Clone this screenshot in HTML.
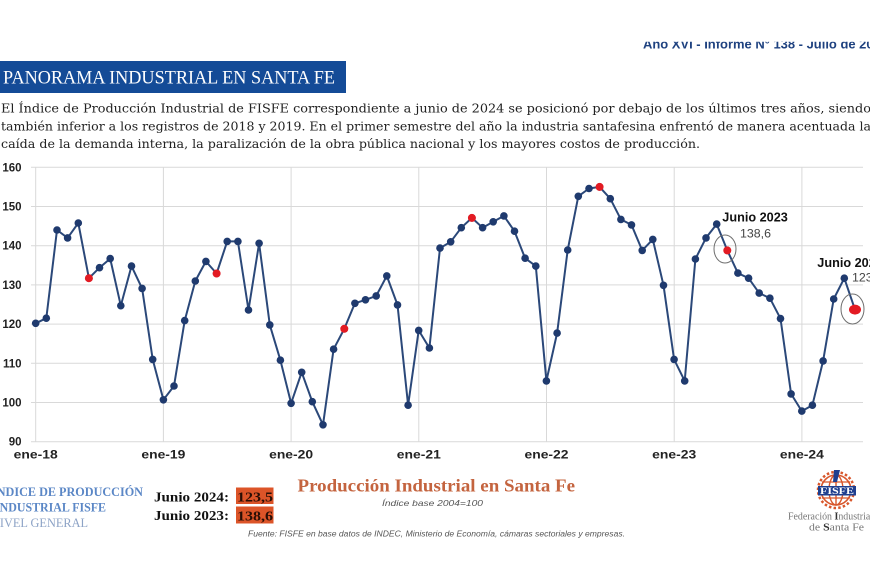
<!DOCTYPE html>
<html>
<head>
<meta charset="utf-8">
<style>
html,body{margin:0;padding:0;background:#fff;}
svg{display:block;}
</style>
</head>
<body>
<svg width="870" height="580" viewBox="0 0 870 580" xmlns="http://www.w3.org/2000/svg">
<defs>
  <clipPath id="hdr"><rect x="0" y="41.8" width="870" height="20"/></clipPath>
  <marker id="m" markerWidth="9" markerHeight="9" refX="4.5" refY="4.5" markerUnits="userSpaceOnUse">
    <circle cx="4.5" cy="4.5" r="3.8" fill="#1f3a6e"/>
  </marker>
</defs>
<rect width="870" height="580" fill="#fff"/>

<!-- header -->
<text x="643" y="48.5" clip-path="url(#hdr)" font-family="Liberation Sans, sans-serif" font-weight="bold" font-size="12.5" fill="#1f4280" textLength="245" lengthAdjust="spacingAndGlyphs">Año XVI - Informe N° 138 - Julio de 2024</text>

<rect x="0" y="61" width="346" height="32" fill="#144b97"/>
<text x="3" y="83.5" font-family="Liberation Serif, serif" font-size="19" fill="#fff" textLength="332" lengthAdjust="spacingAndGlyphs">PANORAMA INDUSTRIAL EN SANTA FE</text>

<g font-family="DejaVu Serif, Liberation Serif, serif" font-size="12.5" fill="#222">
<text x="1" y="112.5" textLength="870" lengthAdjust="spacingAndGlyphs">El Índice de Producción Industrial de FISFE correspondiente a junio de 2024 se posicionó por debajo de los últimos tres años, siendo</text>
<text x="1" y="130.5" textLength="870" lengthAdjust="spacingAndGlyphs">también inferior a los registros de 2018 y 2019. En el primer semestre del año la industria santafesina enfrentó de manera acentuada la</text>
<text x="1" y="148" textLength="699" lengthAdjust="spacingAndGlyphs">caída de la demanda interna, la paralización de la obra pública nacional y los mayores costos de producción.</text>
</g>

<!-- grid -->
<g stroke="#d9d9d9" stroke-width="1">
  <line x1="31" y1="167.3" x2="863" y2="167.3"/>
  <line x1="31" y1="206.5" x2="863" y2="206.5"/>
  <line x1="31" y1="245.7" x2="863" y2="245.7"/>
  <line x1="31" y1="284.9" x2="863" y2="284.9"/>
  <line x1="31" y1="324.1" x2="863" y2="324.1"/>
  <line x1="31" y1="363.3" x2="863" y2="363.3"/>
  <line x1="31" y1="402.5" x2="863" y2="402.5"/>
  <line x1="31" y1="441.7" x2="863" y2="441.7"/>
  <line x1="35.7" y1="167.3" x2="35.7" y2="441.7"/>
  <line x1="163.4" y1="167.3" x2="163.4" y2="441.7"/>
  <line x1="291.1" y1="167.3" x2="291.1" y2="441.7"/>
  <line x1="418.8" y1="167.3" x2="418.8" y2="441.7"/>
  <line x1="546.5" y1="167.3" x2="546.5" y2="441.7"/>
  <line x1="674.2" y1="167.3" x2="674.2" y2="441.7"/>
  <line x1="801.9" y1="167.3" x2="801.9" y2="441.7"/>
</g>

<!-- y labels -->
<g font-family="Liberation Sans, sans-serif" font-weight="bold" font-size="11.5" fill="#222" text-anchor="end">
  <text x="21.5" y="171.3">160</text>
  <text x="21.5" y="210.5">150</text>
  <text x="21.5" y="249.7">140</text>
  <text x="21.5" y="288.9">130</text>
  <text x="21.5" y="328.1">120</text>
  <text x="21.5" y="367.3">110</text>
  <text x="21.5" y="406.5">100</text>
  <text x="21.5" y="445.7">90</text>
</g>

<!-- x labels -->
<g font-family="Liberation Sans, sans-serif" font-weight="bold" font-size="12" fill="#222">
  <text x="13.7" y="458.5" textLength="44" lengthAdjust="spacingAndGlyphs">ene-18</text>
  <text x="141.4" y="458.5" textLength="44" lengthAdjust="spacingAndGlyphs">ene-19</text>
  <text x="269.1" y="458.5" textLength="44" lengthAdjust="spacingAndGlyphs">ene-20</text>
  <text x="396.8" y="458.5" textLength="44" lengthAdjust="spacingAndGlyphs">ene-21</text>
  <text x="524.5" y="458.5" textLength="44" lengthAdjust="spacingAndGlyphs">ene-22</text>
  <text x="652.2" y="458.5" textLength="44" lengthAdjust="spacingAndGlyphs">ene-23</text>
  <text x="779.9" y="458.5" textLength="44" lengthAdjust="spacingAndGlyphs">ene-24</text>
</g>

<!-- series -->
<polyline fill="none" stroke="#2b4879" stroke-width="2" stroke-linejoin="round"
 marker-start="url(#m)" marker-mid="url(#m)" marker-end="url(#m)"
 points="35.7,323.3 46.3,318.2 57.0,230.0 67.6,237.9 78.3,223.0 88.9,278.2 99.5,267.7 110.2,258.6 120.8,305.7 131.5,266.1 142.1,288.4 152.7,359.4 163.4,399.8 174.0,386.0 184.7,320.6 195.3,281.0 205.9,261.4 216.6,273.5 227.2,241.4 237.9,241.4 248.5,310.0 259.1,243.3 269.8,324.9 280.4,360.2 291.1,403.3 301.7,372.3 312.3,401.7 323.0,424.8 333.6,349.2 344.3,328.8 354.9,303.3 365.5,299.8 376.2,295.9 386.8,275.9 397.5,304.9 408.1,405.2 418.7,330.4 429.4,348.0 440.0,248.1 450.7,241.8 461.3,227.7 471.9,217.9 482.6,227.7 493.2,221.8 503.9,215.9 514.5,231.2 525.1,258.2 535.8,266.1 546.4,380.9 557.1,333.1 567.7,250.0 578.3,196.3 589.0,188.5 599.6,186.9 610.3,198.7 620.9,219.4 631.5,224.9 642.2,250.4 652.8,239.4 663.5,285.3 674.1,359.4 684.7,380.9 695.4,259.0 706.0,237.9 716.7,224.1 727.3,250.4 737.9,273.1 748.6,278.2 759.2,293.1 769.9,298.2 780.5,318.6 791.1,393.9 801.8,411.1 812.4,405.2 823.1,360.9 833.7,299.0 844.3,278.2 855.0,309.6"/>

<g fill="#e31b23">
  <circle cx="88.9" cy="278.2" r="4"/>
  <circle cx="216.6" cy="273.5" r="4"/>
  <circle cx="344.3" cy="328.8" r="4"/>
  <circle cx="471.9" cy="217.9" r="4"/>
  <circle cx="599.6" cy="186.9" r="4"/>
  <circle cx="727.3" cy="250.4" r="4"/>
  <ellipse cx="855.0" cy="309.6" rx="6" ry="5"/>
</g>

<!-- annotations -->
<ellipse cx="725" cy="249" rx="11" ry="14" fill="none" stroke="#6e6e6e" stroke-width="1"/>
<ellipse cx="852.5" cy="309" rx="11.5" ry="15" fill="none" stroke="#6e6e6e" stroke-width="1"/>
<g font-family="Liberation Sans, sans-serif">
  <text x="722.3" y="221.5" font-weight="bold" font-size="12.5" fill="#111" textLength="65.5" lengthAdjust="spacingAndGlyphs">Junio 2023</text>
  <text x="740" y="237.5" font-size="12" fill="#444" textLength="31" lengthAdjust="spacingAndGlyphs">138,6</text>
  <text x="817.3" y="267" font-weight="bold" font-size="12.5" fill="#111" textLength="65.5" lengthAdjust="spacingAndGlyphs">Junio 2024</text>
  <text x="852" y="281.5" font-size="12" fill="#444" textLength="31" lengthAdjust="spacingAndGlyphs">123,5</text>
</g>

<!-- bottom left block -->
<g font-family="Liberation Serif, serif">
  <text x="-8" y="496" font-weight="bold" font-size="13" fill="#5b87c6" textLength="151" lengthAdjust="spacingAndGlyphs">ÍNDICE DE PRODUCCIÓN</text>
  <text x="-5" y="511.5" font-weight="bold" font-size="13" fill="#5b87c6" textLength="111" lengthAdjust="spacingAndGlyphs">INDUSTRIAL FISFE</text>
  <text x="-9" y="527" font-size="13" fill="#8da3c6" textLength="97" lengthAdjust="spacingAndGlyphs">NIVEL GENERAL</text>

  <text x="154" y="501.5" font-weight="bold" font-size="13.5" fill="#111" textLength="75" lengthAdjust="spacingAndGlyphs">Junio 2024:</text>
  <text x="154" y="520" font-weight="bold" font-size="13.5" fill="#111" textLength="75" lengthAdjust="spacingAndGlyphs">Junio 2023:</text>
  <rect x="236" y="487.5" width="37.5" height="16.5" fill="#dc5428"/>
  <rect x="236" y="506.5" width="37.5" height="17" fill="#dc5428"/>
  <text x="237" y="501.5" font-weight="bold" font-size="14" fill="#2a0e05" textLength="36" lengthAdjust="spacingAndGlyphs">123,5</text>
  <text x="237" y="520.5" font-weight="bold" font-size="14" fill="#2a0e05" textLength="36" lengthAdjust="spacingAndGlyphs">138,6</text>

  <text x="297.5" y="491.5" font-weight="bold" font-size="17.5" fill="#c4643f" textLength="277.5" lengthAdjust="spacingAndGlyphs">Producción Industrial en Santa Fe</text>
</g>
<g font-family="Liberation Sans, sans-serif" font-style="italic" fill="#555">
  <text x="382" y="506" font-size="8.5" textLength="101" lengthAdjust="spacingAndGlyphs">Índice base 2004=100</text>
  <text x="248" y="536.5" font-size="8.5" textLength="377" lengthAdjust="spacingAndGlyphs">Fuente: FISFE en base datos de INDEC, Ministerio de Economía, cámaras sectoriales y empresas.</text>
</g>

<!-- logo -->
<g>
  <circle cx="836" cy="490" r="18" fill="none" stroke="#d8572c" stroke-width="2.5" stroke-dasharray="2.5 2.2"/>
  <circle cx="836" cy="490" r="15" fill="none" stroke="#d8572c" stroke-width="1.6"/>
  <ellipse cx="836" cy="490" rx="7" ry="15" fill="none" stroke="#d8572c" stroke-width="1.4"/>
  <line x1="836" y1="475" x2="836" y2="505" stroke="#d8572c" stroke-width="1.4"/>
  <line x1="822" y1="482" x2="850" y2="482" stroke="#d8572c" stroke-width="1.3"/>
  <line x1="822" y1="498" x2="850" y2="498" stroke="#d8572c" stroke-width="1.3"/>
  <polygon points="834,470 840,470 837,482 833,482" fill="#1f3f8f"/>
  <rect x="818" y="486" width="38" height="9.5" fill="#1f3f8f"/>
  <text x="820" y="494" font-family="Liberation Serif, serif" font-weight="bold" font-size="9" fill="#fff" textLength="34" lengthAdjust="spacingAndGlyphs">FISFE</text>
  <text x="788" y="519.5" font-family="Liberation Serif, serif" font-size="10" fill="#777" textLength="85" lengthAdjust="spacingAndGlyphs">Federación <tspan fill="#333" font-weight="bold">I</tspan>ndustrial</text>
  <text x="809" y="530.5" font-family="Liberation Serif, serif" font-size="10" fill="#777" textLength="55" lengthAdjust="spacingAndGlyphs">de <tspan fill="#333" font-weight="bold">S</tspan>anta Fe</text>
</g>
</svg>
</body>
</html>
